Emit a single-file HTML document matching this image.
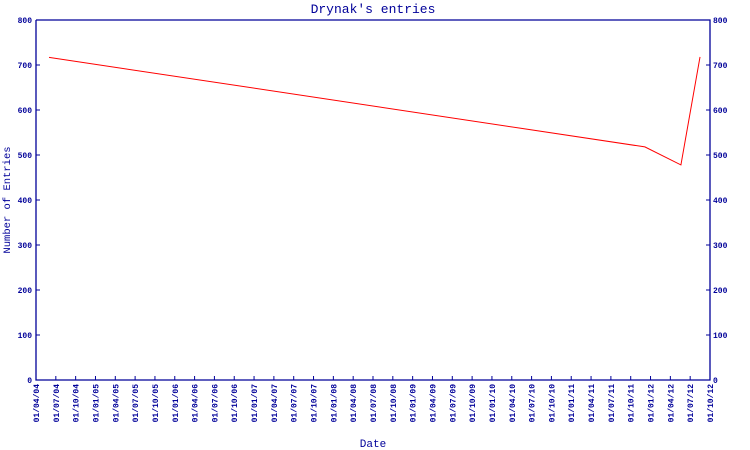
<!DOCTYPE html>
<html><head><meta charset="utf-8"><style>
body{margin:0;background:#fff}
svg{display:block;font-family:"Liberation Mono",monospace}
</style></head><body>
<svg id="chart" width="750" height="450" xmlns="http://www.w3.org/2000/svg">
<text x="373" y="13" text-anchor="middle" font-size="13" fill="#000099">Drynak's entries</text>
<text transform="translate(10,200) rotate(-90)" text-anchor="middle" font-size="10.5" fill="#000099">Number of Entries</text>
<text x="373" y="447" text-anchor="middle" font-size="11" fill="#000099">Date</text>
<g id="axes"></g>
<g id="series"></g>
</svg>
<script>
const yTicks=[0,100,200,300,400,500,600,700,800];
const xTickLabels=[];
const dates=["2004-05-31","2011-12-06","2012-05-20","2012-08-16"];
const entries=[717,518,478,718];
const startYear=2004,startMonth=4,tickCount=35;
for(let i=0;i<tickCount;i++){const m=startMonth-1+i*3;const y=startYear+Math.floor(m/12);const mo=m%12+1;xTickLabels.push("01/"+String(mo).padStart(2,"0")+"/"+String(y%100).padStart(2,"0"));}
const L=36,R=710,T=20,B=380;
const t0=Date.UTC(2004,3,1),t1=Date.UTC(2012,9,1);
function xs(t){return L+(t-t0)/(t1-t0)*(R-L);}
function ys(v){return B-v/800*(B-T);}
const NS="http://www.w3.org/2000/svg";
const C='#000099';
const ax=document.getElementById('axes'),se=document.getElementById('series');
function mk(tag,attrs,parent){const e=document.createElementNS(NS,tag);for(const k in attrs)e.setAttribute(k,attrs[k]);parent.appendChild(e);return e;}
const frame=mk('path',{d:`M${L},${T}V${B}H${R}V${T}H${L}`,fill:'none',stroke:C,'stroke-width':1.3},ax);


yTicks.forEach(v=>{const y=ys(v);
 const t1e=mk('line',{x1:L,x2:L+4,y1:y,y2:y,stroke:C},ax);
 
 
 const t2e=mk('line',{x1:R-4,x2:R,y1:y,y2:y,stroke:C},ax);
 
 
 const a=mk('text',{x:L-4,y:y+3,'text-anchor':'end','font-size':8,fill:C,'font-weight':'bold'},ax);a.textContent=v;
 
 
 const b=mk('text',{x:R+3,y:y+3,'text-anchor':'start','font-size':8,fill:C,'font-weight':'bold'},ax);b.textContent=v;
 
 
});
xTickLabels.forEach((lab,i)=>{const x=L+i*(R-L)/(tickCount-1);
 const tk=mk('line',{x1:x,x2:x,y1:B-4,y2:B,stroke:C},ax);
 
 
 const tx=mk('text',{transform:`translate(${x+3},${B+4}) rotate(-90)`,'text-anchor':'end','font-size':8,fill:C,'font-weight':'bold'},ax);tx.textContent=lab;
 
 
});
const pts=dates.map((d,i)=>{const p=d.split('-');return xs(Date.UTC(+p[0],+p[1]-1,+p[2]))+','+ys(entries[i]);}).join(' ');
const line=mk('polyline',{points:pts,fill:'none',stroke:'#ff0000','stroke-width':1},se);


</script>
</body></html>
